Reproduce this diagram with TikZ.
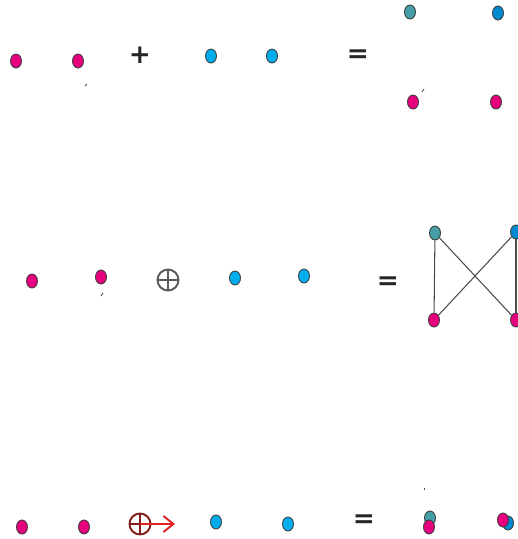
\documentclass[tikz,border=0pt]{standalone}
\usepackage{fontspec}
\usepackage{tikz}
\usetikzlibrary{shapes.geometric, arrows.meta}
\newfontfamily\signfont{DejaVu Sans}
\definecolor{magdot}{RGB}{230, 0, 126}
\definecolor{cyandot}{RGB}{0, 172, 236}
\definecolor{tealdot}{RGB}{70, 158, 166}
\definecolor{bluedot}{RGB}{0, 138, 208}
\definecolor{sumred}{RGB}{130, 30, 30}
\definecolor{arrred}{RGB}{225, 35, 35}

\begin{document}
\begin{tikzpicture}[x=0.02cm, y=-0.02cm,
	dot/.style={ellipse, draw=black!75, line width=0.5pt, minimum width=0.22cm, minimum height=0.28cm, inner sep=0pt},
	sign/.style={font=\signfont\bfseries\fontsize{15}{15}\selectfont, text=black!85, inner sep=0pt},
	tickmark/.style={black!70, line width=0.5pt},
	link/.style={black!70, line width=0.6pt},
	osum/.style={circle, draw=black!65, line width=1.1pt, minimum size=0.42cm, inner sep=0pt}]
			\useasboundingbox (0,0) rectangle (518,539);
			% Row 1: two graphs added
			\node[dot, fill=magdot] (a1) at (16, 61) {};
			\node[dot, fill=magdot] (a2) at (78, 61) {};
			\draw[tickmark] (85, 86) -- (87, 84);
			\node[sign] (plus) at (140, 55) {+};
			\node[dot, fill=cyandot] (b1) at (211, 56) {};
			\node[dot, fill=cyandot] (b2) at (272, 56) {};
			\node[sign] (eq1) at (358, 56) {=};
			\node[dot, fill=tealdot] (c1) at (410, 12) {};
			\node[dot, fill=bluedot] (c2) at (498, 13) {};
			\node[dot, fill=magdot] (c3) at (413, 102) {};
			\node[dot, fill=magdot] (c4) at (496, 102) {};
			\draw[tickmark] (422, 92) -- (424, 89);

			% Row 2: join
			\node[dot, fill=magdot] (d1) at (32, 281) {};
			\node[dot, fill=magdot] (d2) at (101, 277) {};
			\draw[tickmark] (101, 296) -- (103, 293);
			\node[osum] (join) at (168, 280) {};
			\draw[black!65, line width=1.1pt] (join.north) -- (join.south) (join.west) -- (join.east);
			\node[dot, fill=cyandot] (e1) at (235, 278) {};
			\node[dot, fill=cyandot] (e2) at (304, 276) {};
			\node[sign] (eq2) at (388, 283) {=};
			\node[dot, fill=tealdot] (f1) at (435, 233) {};
			\node[dot, fill=bluedot] (f2) at (516, 232) {};
			\node[dot, fill=magdot] (f3) at (434, 320) {};
			\node[dot, fill=magdot] (f4) at (516, 320) {};
			\draw[link] (f1) -- (f3);
			\draw[link] (f1) -- (f4);
			\draw[link] (f2) -- (f3);
			\draw[link] (f2) -- (f4);

			% Row 3: directed join
			\node[dot, fill=magdot] (g1) at (22, 527) {};
			\node[dot, fill=magdot] (g2) at (84, 527) {};
			\node[osum, draw=sumred] (djoin) at (140, 524) {};
			\coordinate (dtip) at (175, 524);
			\draw[sumred, line width=1.1pt] (djoin.north) -- (djoin.south);
			\draw[arrred, line width=1.1pt, -{Straight Barb[length=0.2cm, width=0.32cm]}] (djoin.center) -- (dtip);
			\draw[sumred, line width=1.1pt] (djoin.west) -- (djoin.center);
			\node[dot, fill=cyandot] (h1) at (216, 522) {};
			\node[dot, fill=cyandot] (h2) at (288, 524) {};
			\node[sign] (eq3) at (364, 521) {=};
			\draw[tickmark] (424, 488) -- (424, 490);
			\node[dot, fill=tealdot] (k1) at (430, 518) {};
			\node[dot, fill=magdot] (k3) at (429, 527) {};
			\node[dot, fill=bluedot] (k2) at (508, 523) {};
			\node[dot, fill=magdot] (k4) at (503, 520) {};

		\end{tikzpicture}
\end{document}
